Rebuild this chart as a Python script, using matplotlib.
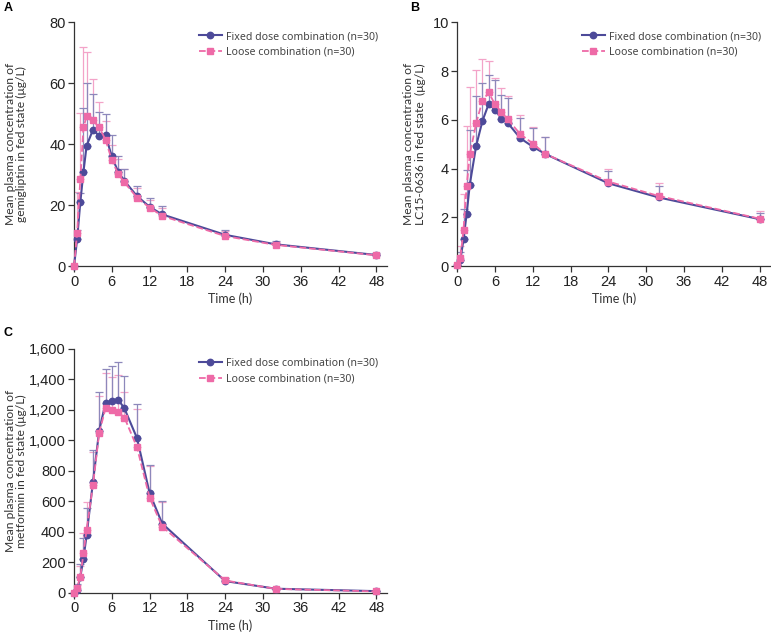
import matplotlib
matplotlib.use("Agg")
import matplotlib.pyplot as plt
import numpy as np
from matplotlib.ticker import FuncFormatter

# ---------------- data ----------------
time_h = [0, 0.5, 1, 1.5, 2, 3, 4, 5, 6, 7, 8, 10, 12, 14, 24, 32, 48]

gem_fdc = [0, 9, 21, 31, 39.5, 44.7, 42.8, 43, 36, 31, 28, 23, 19.5, 17, 10.3, 7.2, 3.7]
gem_fdc_top = [0, 12, 24, 52, 60, 56.5, 50.5, 49.8, 43, 36, 32, 26.3, 22.5, 19.7, 11.8, 8.3, 4.2]
gem_lc = [0, 11, 28.5, 45.5, 49.2, 47.8, 45.5, 41.5, 34.8, 30.3, 27.5, 22.5, 19.2, 16.5, 9.9, 7, 3.6]
gem_lc_top = [0, 24.5, 50.3, 72, 70.2, 61.3, 54, 47.5, 39.8, 35, 32, 25.5, 21.7, 19, 11.5, 8, 4]

lc15_fdc = [0.05, 0.25, 1.1, 2.15, 3.35, 4.92, 5.95, 6.65, 6.42, 6.05, 5.88, 5.25, 4.9, 4.6, 3.4, 2.82, 1.93]
lc15_fdc_top = [0.05, 0.6, 2.35, 3.95, 5.6, 6.98, 7.5, 7.82, 7.65, 7.02, 6.9, 6.08, 5.68, 5.28, 3.9, 3.3, 2.2]
lc15_lc = [0.05, 0.32, 1.5, 3.27, 4.58, 5.85, 6.78, 7.12, 6.63, 6.33, 6.02, 5.42, 5.03, 4.6, 3.47, 2.88, 1.95]
lc15_lc_top = [0.05, 0.82, 2.97, 5.73, 7.35, 8.03, 8.48, 8.42, 7.72, 7.32, 6.97, 6.2, 5.72, 5.28, 3.97, 3.42, 2.28]

met_fdc = [0, 20, 105, 225, 380, 725, 1065, 1245, 1258, 1268, 1210, 1015, 655, 455, 78, 28, 12]
met_fdc_top = [0, 60, 190, 360, 555, 940, 1315, 1465, 1490, 1512, 1420, 1240, 840, 600, 100, 35, 15]
met_lc = [0, 35, 105, 260, 415, 705, 1050, 1210, 1198, 1185, 1150, 955, 625, 435, 82, 27, 10]
met_lc_top = [0, 55, 175, 390, 595, 925, 1290, 1440, 1415, 1430, 1320, 1205, 835, 595, 95, 35, 12]

x_ticks = [0, 6, 12, 18, 24, 30, 36, 42, 48]
label_fdc = "Fixed dose combination (n=30)"
label_lc = "Loose combination (n=30)"

C_FDC = "#4d4a99"
C_LC = "#ee6aa7"
C_FDC_ERR = "#8d88bb"
C_LC_ERR = "#f3a3c8"

TICK_FONT = "Liberation Sans"
LAB_FONT = "Lato"
LEG_FONT = "Noto Sans"

fig = plt.figure(figsize=(7.71, 6.34), dpi=100)

def panel(rect, fdc, fdc_top, lc, lc_top, ymax, ystep, ylabel, letter, letter_xy,
          ylab_x, thousands=False):
    ax = fig.add_axes(rect)
    err_f = [max(t - v, 0) for t, v in zip(fdc_top, fdc)]
    err_l = [max(t - v, 0) for t, v in zip(lc_top, lc)]
    ax.errorbar(time_h, lc, yerr=[[0] * len(lc), err_l], fmt="none",
                ecolor=C_LC_ERR, elinewidth=0.9, capsize=3, capthick=0.9, zorder=2)
    ax.errorbar(time_h, fdc, yerr=[[0] * len(fdc), err_f], fmt="none",
                ecolor=C_FDC_ERR, elinewidth=0.9, capsize=3, capthick=0.9, zorder=2)
    ax.plot(time_h, fdc, "-o", color=C_FDC, lw=1.5, ms=4.6, label=label_fdc,
            clip_on=False, zorder=4)
    ax.plot(time_h, lc, "--s", color=C_LC, lw=1.3, ms=4.3, label=label_lc,
            clip_on=False, zorder=5)
    ax.set_xlim(0, 49.7)
    ax.set_ylim(0, ymax)
    ax.set_xticks(x_ticks)
    ax.set_yticks(list(np.arange(0, ymax + ystep / 2, ystep)))
    if thousands:
        ax.yaxis.set_major_formatter(FuncFormatter(lambda v, p: f"{int(v):,}"))
    for s in ["top", "right"]:
        ax.spines[s].set_visible(False)
    for s in ["left", "bottom"]:
        ax.spines[s].set_color("#333333")
        ax.spines[s].set_linewidth(0.9)
    ax.tick_params(direction="out", length=4, width=0.9, color="#333333",
                   labelsize=10.5, labelcolor="#222222", pad=2)
    for t in ax.get_xticklabels() + ax.get_yticklabels():
        t.set_fontfamily(TICK_FONT)
    ax.set_xlabel("Time (h)", fontsize=9, family=LAB_FONT, color="#333333", labelpad=3)
    ax.set_ylabel(ylabel, fontsize=8.7, family=LAB_FONT, color="#333333",
                  linespacing=1.05)
    ax.yaxis.set_label_coords(ylab_x, 0.5)
    ax.legend(loc="upper right", bbox_to_anchor=(1.0, 1.0), frameon=False,
              prop={"family": LEG_FONT, "size": 7.6}, handlelength=2.2,
              handletextpad=0.4, labelspacing=0.45, labelcolor="#444444",
              borderaxespad=0.45)
    fig.text(letter_xy[0], letter_xy[1], letter, fontsize=9,
             fontweight="bold", family=TICK_FONT, va="top", ha="left")
    return ax

W, H = 771, 634
panel([0.096, 0.580, 0.406, 0.385], gem_fdc, gem_fdc_top, gem_lc, gem_lc_top,
      80, 20, "Mean plasma concentration of\ngemigliptin in fed state (μg/L)", "A",
      (4 / W, 1 - 2 / H), -0.15)
panel([0.593, 0.580, 0.406, 0.385], lc15_fdc, lc15_fdc_top, lc15_lc, lc15_lc_top,
      10, 2, "Mean plasma concentration of\nLC15-0636 in fed state  (μg/L)", "B",
      (410 / W, 1 - 2 / H), -0.10)
panel([0.096, 0.0647, 0.406, 0.385], met_fdc, met_fdc_top, met_lc, met_lc_top,
      1600, 200, "Mean plasma concentration of\nmetformin in fed state (μg/L)", "C",
      (4 / W, 1 - 327 / H), -0.15, thousands=True)

fig.savefig("out.png", dpi=100)
